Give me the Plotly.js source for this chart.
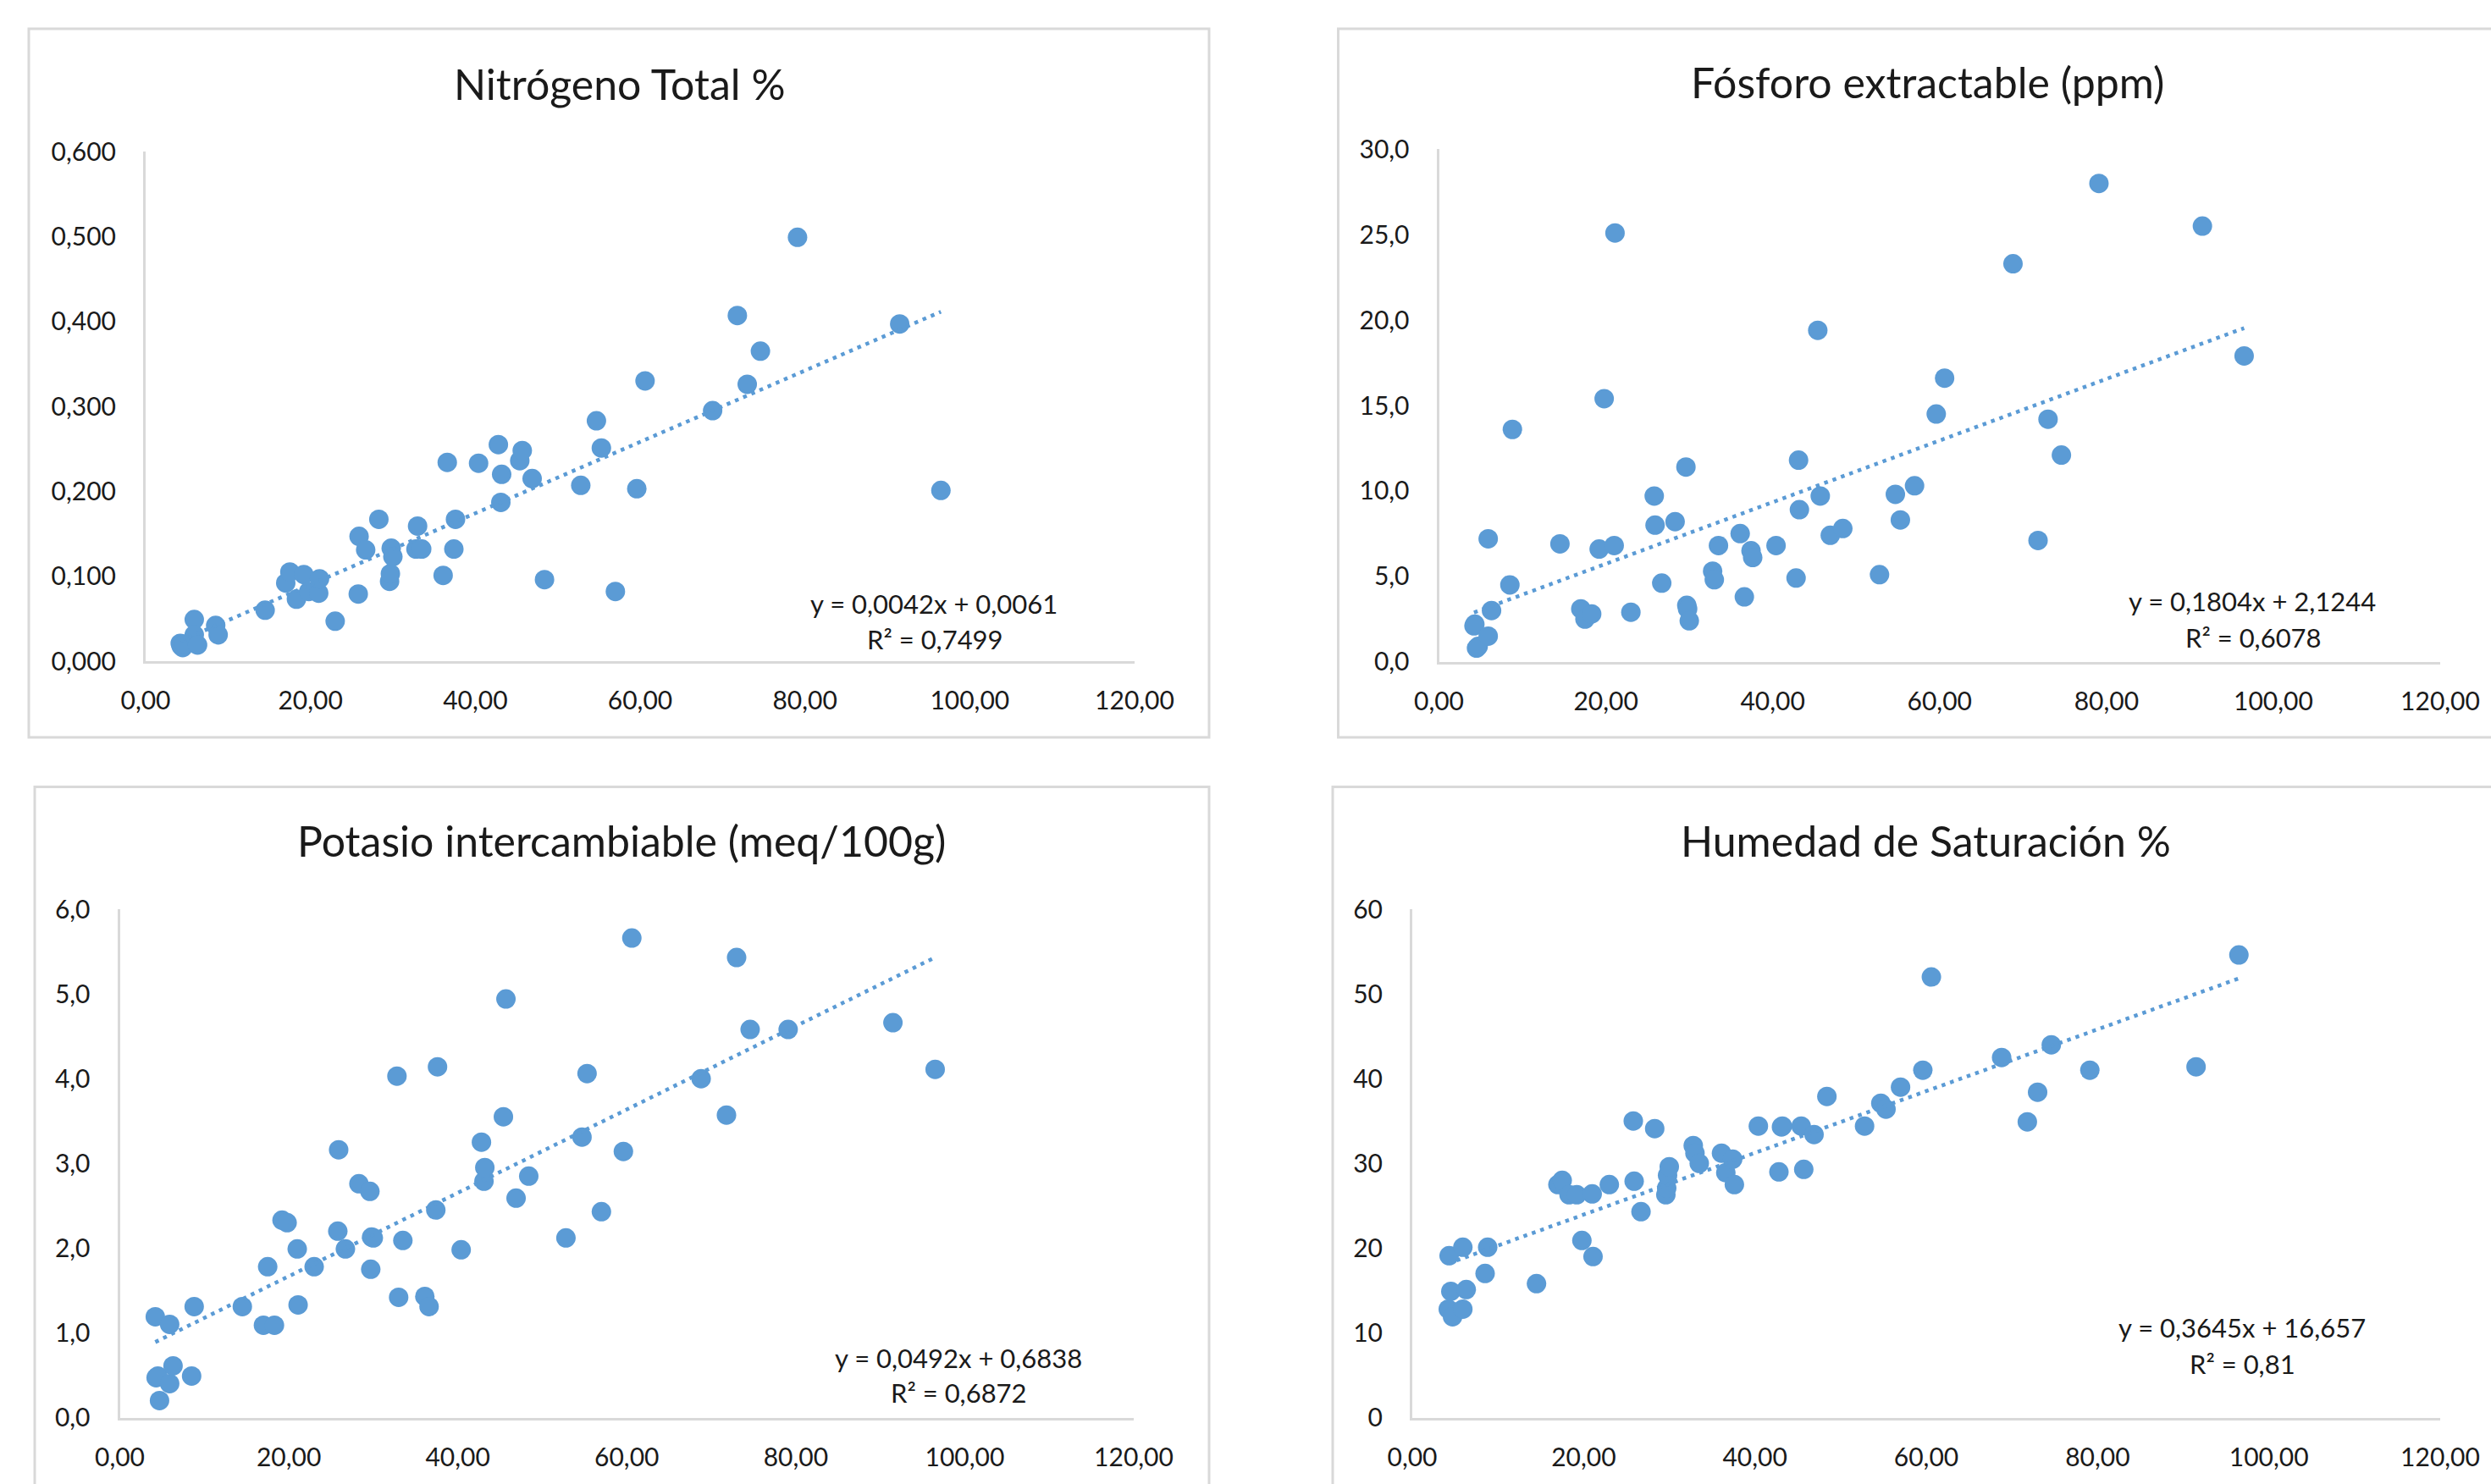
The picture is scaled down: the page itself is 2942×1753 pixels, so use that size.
<!DOCTYPE html>
<html>
<head>
<meta charset="utf-8">
<script src="https://cdn.plot.ly/plotly-3.0.1.min.js"></script>
<style>html,body{margin:0;padding:0;background:#fff;}#chart{width:2942px;height:1753px;}</style>
</head>
<body>
<div id="chart"></div>
<script>
// ---- Data (shared x for all four panels) ----
const xVals = [4.2, 4.3, 4.5, 4.7, 5.9, 5.9, 6.3, 8.5, 8.8, 14.5, 17.0, 17.5, 18.3, 19.2, 19.8, 21.0, 21.1, 23.0, 25.8, 25.9, 26.7, 28.3, 29.6, 29.7, 29.8, 30.0, 32.8, 33.0, 33.5, 36.1, 36.6, 37.4, 37.6, 40.4, 42.8, 43.1, 43.2, 45.4, 45.7, 46.9, 48.4, 52.8, 54.7, 55.3, 57.0, 59.6, 60.6, 68.8, 71.8, 73.0, 74.6, 79.1, 91.5, 96.5];

const nitrogeno = [0.021, 0.018, 0.016, 0.020, 0.049, 0.031, 0.019, 0.042, 0.031, 0.060, 0.092, 0.105, 0.073, 0.102, 0.082, 0.080, 0.097, 0.047, 0.079, 0.147, 0.131, 0.167, 0.094, 0.103, 0.133, 0.123, 0.132, 0.159, 0.132, 0.101, 0.234, 0.132, 0.167, 0.233, 0.255, 0.187, 0.220, 0.236, 0.248, 0.215, 0.096, 0.207, 0.283, 0.251, 0.082, 0.203, 0.330, 0.295, 0.407, 0.326, 0.365, 0.499, 0.397, 0.201];

const fosforo = [2.1, 2.2, 0.8, 0.9, 1.5, 7.2, 3.0, 4.5, 13.6, 6.9, 3.1, 2.5, 2.8, 6.6, 15.4, 6.8, 25.1, 2.9, 9.7, 8.0, 4.6, 8.2, 11.4, 3.3, 3.1, 2.4, 5.3, 4.8, 6.8, 7.5, 3.8, 6.5, 6.1, 6.8, 4.9, 11.8, 8.9, 19.4, 9.7, 7.4, 7.8, 5.1, 9.8, 8.3, 10.3, 14.5, 16.6, 23.3, 7.1, 14.2, 12.1, 28.0, 25.5, 17.9];

const potasio = [1.19, 0.47, 0.49, 0.20, 1.10, 0.40, 0.61, 0.49, 1.31, 1.31, 1.09, 1.78, 1.09, 2.33, 2.30, 1.99, 1.33, 1.78, 2.20, 3.16, 1.99, 2.76, 2.67, 1.75, 2.13, 2.12, 4.03, 1.42, 2.09, 1.43, 1.31, 2.45, 4.14, 1.98, 3.25, 2.79, 2.95, 3.55, 4.94, 2.59, 2.85, 2.12, 3.31, 4.06, 2.43, 3.14, 5.66, 4.00, 3.57, 5.43, 4.58, 4.58, 4.66, 4.11];

const humedad = [12.8, 19.1, 14.9, 11.9, 20.1, 12.8, 15.1, 17.0, 20.1, 15.8, 27.5, 28.0, 26.3, 26.3, 20.9, 26.4, 19.0, 27.5, 35.0, 27.9, 24.3, 34.1, 26.3, 27.1, 28.6, 29.6, 32.1, 31.2, 30.0, 31.2, 28.9, 30.5, 27.5, 34.4, 29.0, 34.3, 34.4, 34.4, 29.3, 33.4, 37.9, 34.4, 37.1, 36.4, 39.0, 41.0, 52.0, 42.5, 34.9, 38.4, 44.0, 41.0, 41.4, 54.6];

const titles = ["Nitrógeno Total %", "Fósforo extractable (ppm)", "Potasio intercambiable (meq/100g)", "Humedad de Saturación %"];
const slopes = [0.0042, 0.1804, 0.0492, 0.3645];
const intercepts = [0.0061, 2.1244, 0.6838, 16.657];
const eqLabels = ["y = 0,0042x + 0,0061", "y = 0,1804x + 2,1244", "y = 0,0492x + 0,6838", "y = 0,3645x + 16,657"];
const r2Labels = ["R² = 0,7499", "R² = 0,6078", "R² = 0,6872", "R² = 0,81"];
const yMax = [0.6, 30, 6, 60];
const yDtick = [0.1, 5, 1, 10];
const yFormat = [".3f", ".1f", ".1f", ".0f"];
const xTickFormat = ".2f";

// ---- Layout geometry (pixels in the 2942x1753 page) ----
const W = 2942, H = 1753;
const fx = p => p / W;
const fy = p => 1 - p / H;
const plotBoxes = [
  {x0: 172, x1: 1340, yTop: 179, yBot: 781},
  {x0: 1699.5, x1: 2882, yTop: 176.3, yBot: 781.7},
  {x0: 141.5, x1: 1339, yTop: 1074, yBot: 1674.5},
  {x0: 1668, x1: 2882, yTop: 1074, yBot: 1674.5}
];
const frames = [
  {x0: 34, x1: 1428, y0: 34, y1: 871},
  {x0: 1580.5, x1: 2975, y0: 34, y1: 871},
  {x0: 41, x1: 1428, y0: 929.6, y1: 1800},
  {x0: 1574, x1: 2975, y0: 929.6, y1: 1800}
];
const titlePos = [[731, 99], [2276, 97], [734, 993], [2274, 993]];
const eqPos = [[1103, 713], [2660, 710], [1132, 1604], [2648, 1568]];
const r2Pos = [[1104, 755], [2661, 753], [1132, 1645], [2648, 1611]];

const seriesY = [nitrogeno, fosforo, potasio, humedad];
const blue = "#5B9BD5";
const textColor = "#1a1a1a";
const fontFam = "Lato, 'Open Sans', sans-serif";

const traces = [];
const layout = {
  width: W, height: H,
  margin: {l: 0, r: 0, t: 0, b: 0},
  paper_bgcolor: "#ffffff", plot_bgcolor: "rgba(0,0,0,0)",
  showlegend: false,
  separators: ",.",
  font: {family: fontFam, color: textColor},
  shapes: [], annotations: []
};

for (let i = 0; i < 4; i++) {
  const sfx = i === 0 ? "" : String(i + 1);
  const xa = "x" + sfx, ya = "y" + sfx;
  const ys = seriesY[i];
  // scatter points
  traces.push({
    type: "scatter", mode: "markers", x: xVals, y: ys, xaxis: xa, yaxis: ya,
    marker: {color: blue, size: 23, line: {width: 0}},
    hoverinfo: "skip", cliponaxis: false
  });
  // linear trendline over data x range
  const xmin = Math.min(...xVals), xmax = Math.max(...xVals);
  traces.push({
    type: "scatter", mode: "lines", x: [xmin, xmax],
    y: [slopes[i] * xmin + intercepts[i], slopes[i] * xmax + intercepts[i]],
    xaxis: xa, yaxis: ya,
    line: {color: blue, width: 4.5, dash: "4.5px,6px"},
    hoverinfo: "skip"
  });
  const b = plotBoxes[i];
  const axCommon = {
    showgrid: false, zeroline: false, showline: true,
    linecolor: "#D9D9D9", linewidth: 3, ticks: "",
    tickfont: {family: fontFam, size: 30, color: textColor},
    fixedrange: true
  };
  layout["xaxis" + sfx] = Object.assign({}, axCommon, {
    domain: [fx(b.x0), fx(b.x1)], anchor: ya,
    range: [0, 120], tick0: 0, dtick: 20, tickformat: xTickFormat,
    ticklabelstandoff: 18
  });
  layout["yaxis" + sfx] = Object.assign({}, axCommon, {
    domain: [fy(b.yBot), fy(b.yTop)], anchor: xa,
    range: [0, yMax[i]], tick0: 0, dtick: yDtick[i], tickformat: yFormat[i],
    ticklabelstandoff: 26
  });
  const f = frames[i];
  layout.shapes.push({
    type: "rect", xref: "paper", yref: "paper",
    x0: fx(f.x0), x1: fx(f.x1), y0: fy(f.y1), y1: fy(f.y0),
    line: {color: "#D9D9D9", width: 3}, fillcolor: "rgba(0,0,0,0)", layer: "below"
  });
  layout.annotations.push({
    xref: "paper", yref: "paper", x: fx(titlePos[i][0]), y: fy(titlePos[i][1]),
    xanchor: "center", yanchor: "middle", showarrow: false, text: titles[i],
    font: {family: fontFam, size: 50, color: textColor}
  });
  layout.annotations.push({
    xref: "paper", yref: "paper", x: fx(eqPos[i][0]), y: fy(eqPos[i][1]),
    xanchor: "center", yanchor: "middle", showarrow: false, text: eqLabels[i],
    font: {family: fontFam, size: 31, color: textColor}
  });
  layout.annotations.push({
    xref: "paper", yref: "paper", x: fx(r2Pos[i][0]), y: fy(r2Pos[i][1]),
    xanchor: "center", yanchor: "middle", showarrow: false, text: r2Labels[i],
    font: {family: fontFam, size: 31, color: textColor}
  });
}

Plotly.newPlot("chart", traces, layout, {staticPlot: true, displayModeBar: false});
</script>
</body>
</html>
